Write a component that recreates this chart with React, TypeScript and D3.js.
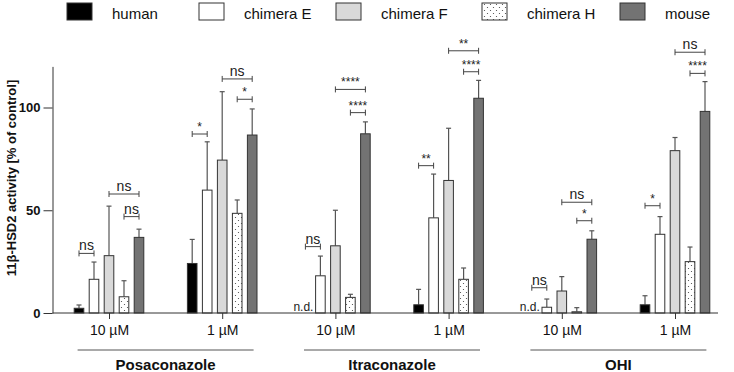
import React, { useEffect, useRef } from "react";
import * as d3 from "d3";

// chart values
const seriesNames = ["human", "chimera E", "chimera F", "chimera H", "mouse"];
const compounds = ["Posaconazole", "Itraconazole", "OHI"];
const doses = ["10 µM", "1 µM"];
const groups = ["Pos10", "Pos1", "Itra10", "Itra1", "OHI10", "OHI1"];

// mean activity per series, in group order (null = n.d.)
const human = [2.3, 24.1, null, 4.0, null, 4.0];
const chimeraE = [16.4, 59.8, 18.1, 46.3, 2.8, 38.3];
const chimeraF = [27.9, 74.4, 32.7, 64.5, 10.7, 79.0];
const chimeraH = [7.9, 48.5, 7.6, 16.4, 0.6, 25.0];
const mouse = [36.8, 86.6, 87.2, 104.5, 35.9, 98.1];

// upper error (SD)
const humanErr = [1.6, 11.7, null, 7.5, null, 4.4];
const chimeraEErr = [8.4, 23.5, 9.6, 21.3, 4.0, 8.6];
const chimeraFErr = [24.1, 33.3, 17.3, 25.4, 7.0, 6.4];
const chimeraHErr = [7.8, 6.5, 1.5, 5.5, 2.0, 7.1];
const mouseErr = [4.0, 12.7, 5.8, 8.7, 4.1, 14.5];

// significance brackets: [group, from series, to series, level, label]
const brackets: [number, number, number, number, string][] = [
  [0, 0, 1, 29, "ns"], [0, 2, 4, 57.9, "ns"], [0, 3, 4, 46.9, "ns"],
  [1, 0, 1, 87.1, "*"], [1, 2, 4, 113.9, "ns"], [1, 3, 4, 104, "*"],
  [2, 0, 1, 32.3, "ns"], [2, 2, 4, 108.8, "****"], [2, 3, 4, 97.5, "****"],
  [3, 0, 1, 71.7, "**"], [3, 2, 4, 127.6, "**"], [3, 3, 4, 117.4, "****"],
  [4, 0, 1, 12.3, "ns"], [4, 2, 4, 53.9, "ns"], [4, 3, 4, 44.9, "*"],
  [5, 0, 1, 52.2, "*"], [5, 2, 4, 126.9, "ns"], [5, 3, 4, 116.6, "****"],
];

const yTicks = [0, 50, 100];

const means = [human, chimeraE, chimeraF, chimeraH, mouse];
const errs = [humanErr, chimeraEErr, chimeraFErr, chimeraHErr, mouseErr];
const fills = ["#000000", "#ffffff", "#d9d9d9", "url(#dots)", "#737373"];
const legendX = [67, 199, 336, 482, 620];

const W = 734, H = 372;
const font = "'Liberation Sans', Arial, sans-serif";

export default function App() {
  const yAxisRef = useRef<SVGGElement>(null);
  const xAxisRef = useRef<SVGGElement>(null);

  const y = d3.scaleLinear().domain([0, 120]).range([313, 66.4]);
  const xg = d3.scalePoint().domain(groups).range([109, 675]);
  const xs = d3.scaleBand().domain(seriesNames).range([-37.5, 37.5])
    .paddingInner(0.36).paddingOuter(0.18);
  const bw = xs.bandwidth();
  const cx = (g: number, s: number) =>
    (xg(groups[g]) as number) + (xs(seriesNames[s]) as number) + bw / 2;

  useEffect(() => {
    const ya = d3.select(yAxisRef.current!);
    ya.call(d3.axisLeft(y).tickValues(yTicks).tickSize(9).tickSizeOuter(0).tickPadding(3));
    ya.select(".domain").attr("stroke", "#333");
    ya.selectAll(".tick line").attr("stroke", "#333");
    ya.selectAll(".tick text").attr("font-size", 13).attr("font-weight", "bold")
      .attr("font-family", font).attr("fill", "#111");

    const xa = d3.select(xAxisRef.current!);
    xa.call(d3.axisBottom(xg).tickSize(6).tickPadding(6)
      .tickFormat((d, i) => doses[i % 2]));
    xa.select(".domain").remove();
    xa.selectAll(".tick line").attr("stroke", "#333");
    xa.selectAll(".tick text").attr("font-size", 14).attr("font-family", font).attr("fill", "#111");
  });

  return (
    <svg width={W} height={H} style={{ position: "absolute", left: 0, top: 0 }}
      fontFamily={font}>
      <defs>
        <pattern id="dots" width="6" height="6" patternUnits="userSpaceOnUse">
          <rect width="6" height="6" fill="#fff" />
          <circle cx="1.5" cy="1.5" r="0.6" fill="#444" />
          <circle cx="4.5" cy="4.5" r="0.6" fill="#444" />
        </pattern>
      </defs>
      <rect width={W} height={H} fill="#fff" />

      {/* legend */}
      {seriesNames.map((s, i) => (
        <g key={s}>
          <rect x={legendX[i]} y={3} width={25} height={17} fill={fills[i]}
            stroke="#333" strokeWidth={1} />
          <text x={legendX[i] + 45} y={19} fontSize={15} fill="#111">{s}</text>
        </g>
      ))}

      {/* y label */}
      <text transform="translate(16,178) rotate(-90)" textAnchor="middle"
        fontSize={13} fontWeight="bold" fill="#111">11β-HSD2 activity [% of control]</text>

      <g ref={yAxisRef} transform="translate(52.5,0)" />

      {/* bars and error bars */}
      {means.map((vals, s) => vals.map((v, g) => {
        if (v == null) return null;
        const e = errs[s][g] as number;
        const c = cx(g, s);
        return (
          <g key={`${s}-${g}`}>
            <line x1={c} x2={c} y1={y(v)} y2={y(v + e)} stroke="#555" strokeWidth={1.2} />
            <line x1={c - 2.5} x2={c + 2.5} y1={y(v + e)} y2={y(v + e)} stroke="#555" strokeWidth={1.2} />
            <rect x={c - bw / 2} y={y(v)} width={bw} height={y(0) - y(v)}
              fill={fills[s]} stroke="#333" strokeWidth={1} />
          </g>
        );
      }))}

      {/* n.d. labels */}
      {human.map((v, g) => v == null ? (
        <text key={`nd${g}`} x={cx(g, 0) + 8} y={311} textAnchor="end" fontSize={12} fill="#222">n.d.</text>
      ) : null)}

      {/* significance brackets */}
      {brackets.map(([g, a, b, lvl, lab], i) => {
        const x1 = cx(g, a), x2 = cx(g, b), yy = y(lvl);
        return (
          <g key={`b${i}`} stroke="#444" strokeWidth={1}>
            <line x1={x1} x2={x2} y1={yy} y2={yy} />
            <line x1={x1} x2={x1} y1={yy - 3} y2={yy + 3} />
            <line x1={x2} x2={x2} y1={yy - 3} y2={yy + 3} />
            <text x={(x1 + x2) / 2} y={yy - 3} textAnchor="middle" stroke="none"
              fill="#222" fontSize={lab === "ns" ? 14 : 12}>{lab}</text>
          </g>
        );
      })}

      {/* x baseline and axis */}
      <line x1={52.5} x2={718} y1={y(0)} y2={y(0)} stroke="#333" strokeWidth={1} />
      <g ref={xAxisRef} transform={`translate(0,${y(0)})`} />

      {/* compound underlines and names */}
      {compounds.map((c, i) => {
        const mid = ((xg(groups[2 * i]) as number) + (xg(groups[2 * i + 1]) as number)) / 2;
        return (
          <g key={c}>
            <line x1={mid - 88} x2={mid + 88} y1={350} y2={350} stroke="#555" strokeWidth={1} />
            <text x={mid} y={370} textAnchor="middle" fontSize={15} fontWeight="bold" fill="#111">{c}</text>
          </g>
        );
      })}
    </svg>
  );
}
